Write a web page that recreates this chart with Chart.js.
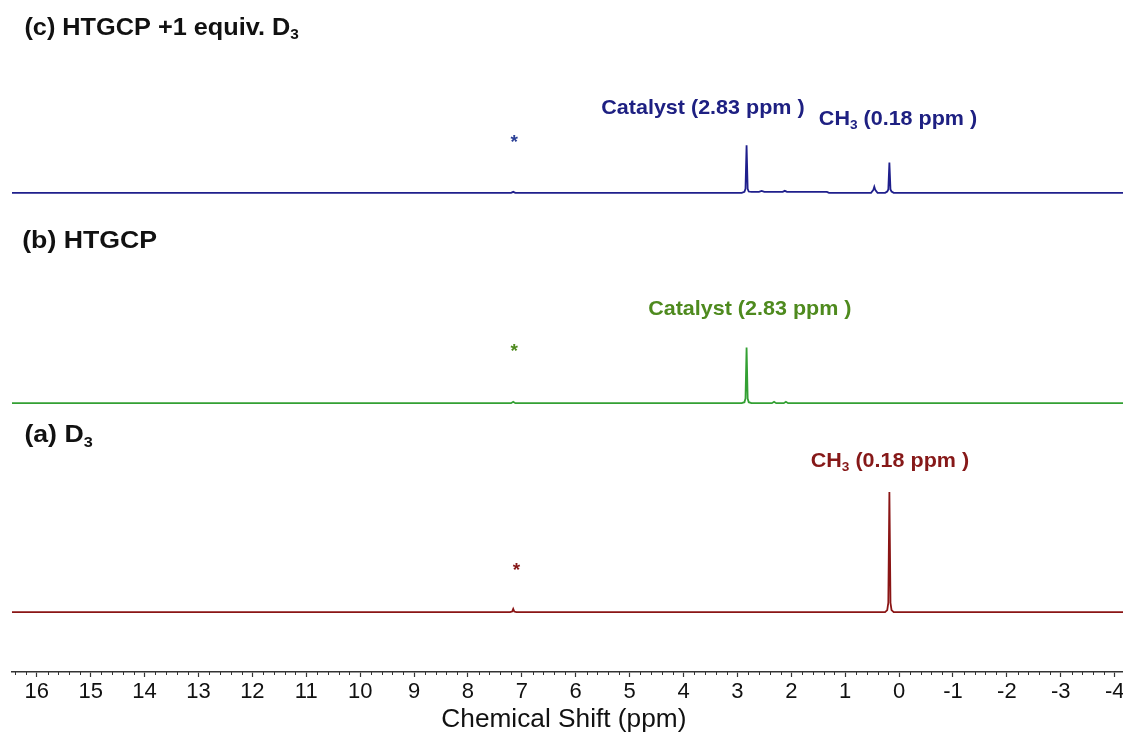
<!DOCTYPE html>
<html>
<head>
<meta charset="utf-8">
<script src="https://cdn.jsdelivr.net/npm/chart.js@4.4.1/dist/chart.umd.min.js"></script>
<style>
  html, body { margin: 0; padding: 0; background: #fff; overflow: hidden; width: 1123px; height: 737px; }
  canvas { position: absolute; left: 0; top: 0; }
</style>
</head>
<body>
<canvas id="nmr" width="1150" height="737"></canvas>
<script>
// Chemical-shift axis labels (ppm)
const tickLabels = [16, 15, 14, 13, 12, 11, 10, 9, 8, 7, 6, 5, 4, 3, 2, 1, 0, -1, -2, -3, -4];

// (a) D3: solvent residual (*) at 7.16 ppm and CH3 singlet at 0.18 ppm
const shiftsA = [16.46, 7.22, 7.18, 7.16, 7.14, 7.10, 0.26, 0.22, 0.20, 0.18, 0.16, 0.14, 0.10, -4.6];
const intensA = [0, 0, 0.1, 0.5, 0.1, 0, 0, 0.3, 1.4, 17.9, 1.4, 0.3, 0, 0];

// (b) HTGCP: catalyst signal at 2.83 ppm
const shiftsB = [16.46, 7.20, 7.16, 7.12, 2.92, 2.87, 2.85, 2.83, 2.81, 2.79, 2.74, 2.36, 2.32, 2.28, 2.14, 2.10, 2.06, -4.6];
const intensB = [0, 0, 0.2, 0, 0, 0.15, 0.7, 8.3, 0.7, 0.15, 0, 0, 0.2, 0, 0, 0.2, 0, 0];

// (c) HTGCP + 1 equiv. D3: catalyst 2.83 ppm and CH3 0.18 ppm
const shiftsC = [16.46, 7.20, 7.16, 7.12, 2.92, 2.87, 2.85, 2.83, 2.81, 2.79, 2.74, 2.60, 2.55, 2.50, 2.16, 2.12, 2.08, 1.34, 1.30,
                 0.52, 0.48, 0.46, 0.44, 0.40, 0.26, 0.22, 0.20, 0.18, 0.16, 0.14, 0.10, -4.6];
const intensC = [0, 0, 0.15, 0, 0, 0.15, 0.6, 7.1, 0.6, 0.2, 0.15, 0.15, 0.3, 0.15, 0.15, 0.3, 0.15, 0.15, 0,
                 0, 0.4, 0.9, 0.4, 0, 0, 0.2, 0.5, 4.5, 0.5, 0.2, 0, 0];

// Vertical stacking of the three traces
const baselineOffsets = { a: 8.9, b: 40.0, c: 71.3 };

const FONT = "'Liberation Sans', Arial, Helvetica, sans-serif";
const NAVY = '#1e2082', NAVY_LINE = '#1f1f8c';
const GREEN_TXT = '#4e8a1e', GREEN_LINE = '#33a033';
const RED = '#861818', RED_LINE = '#8a1515';

const spectra = [
  { name: '(a) D3', shift: shiftsA, intens: intensA, offset: baselineOffsets.a, color: RED_LINE },
  { name: '(b) HTGCP', shift: shiftsB, intens: intensB, offset: baselineOffsets.b, color: GREEN_LINE },
  { name: '(c) HTGCP +1 equiv. D3', shift: shiftsC, intens: intensC, offset: baselineOffsets.c, color: NAVY_LINE }
];

// Text placed in data coordinates (ppm, stacked intensity); sx widens the glyphs
const labels = [
  { x: 16.23, y: 95.8, align: 'left', size: 23, sx: 1.10, bold: true, color: '#111', parts: [['(c) HTGCP +1 equiv. D'], ['3', 'sub']] },
  { x: 16.27, y: 64.1, align: 'left', size: 23, sx: 1.16, bold: true, color: '#111', parts: [['(b) HTGCP']] },
  { x: 16.23, y: 35.1, align: 'left', size: 23, sx: 1.16, bold: true, color: '#111', parts: [['(a) D'], ['3', 'sub']] },
  { x: 3.64, y: 83.9, align: 'center', size: 20.5, sx: 1.05, bold: true, color: NAVY, parts: [['Catalyst (2.83 ppm )']] },
  { x: 0.02, y: 82.2, align: 'center', size: 20.5, sx: 1.05, bold: true, color: NAVY, parts: [['CH'], ['3', 'sub'], [' (0.18 ppm )']] },
  { x: 2.77, y: 53.9, align: 'center', size: 20.5, sx: 1.05, bold: true, color: GREEN_TXT, parts: [['Catalyst (2.83 ppm )']] },
  { x: 0.17, y: 31.3, align: 'center', size: 20.5, sx: 1.05, bold: true, color: RED, parts: [['CH'], ['3', 'sub'], [' (0.18 ppm )']] },
  { x: 7.14, y: 78.8, align: 'center', size: 19, sx: 1, bold: true, color: '#2a3f96', parts: [['*']] },
  { x: 7.14, y: 47.7, align: 'center', size: 19, sx: 1, bold: true, color: GREEN_TXT, parts: [['*']] },
  { x: 7.10, y: 15.0, align: 'center', size: 19, sx: 1, bold: true, color: RED, parts: [['*']] },
  // axis title
  { x: 6.22, y: -7.2, align: 'center', size: 25, sx: 1.05, bold: false, color: '#111', parts: [['Chemical Shift (ppm)']] }
];

function partFont(l, kind) {
  return (l.bold ? 'bold ' : '') + (kind === 'sub' ? Math.round(l.size * 0.62) : l.size) + 'px ' + FONT;
}

const textLayer = {
  id: 'textLayer',
  afterDraw(chart) {
    const c = chart.ctx, xs = chart.scales.x, ys = chart.scales.y;
    labels.forEach(l => {
      c.save();
      c.textBaseline = 'middle';
      c.textAlign = 'left';
      let w = 0;
      l.parts.forEach(p => { c.font = partFont(l, p[1]); w += c.measureText(p[0]).width; });
      let px = xs.getPixelForValue(l.x);
      if (l.align === 'center') px -= w * l.sx / 2;
      const py = ys.getPixelForValue(l.y);
      c.translate(px, py);
      c.scale(l.sx, 1);
      c.fillStyle = l.color;
      let cx = 0;
      l.parts.forEach(p => {
        c.font = partFont(l, p[1]);
        const dy = p[1] === 'sub' ? l.size * 0.3 : 0;
        c.fillText(p[0], cx, dy);
        cx += c.measureText(p[0]).width;
      });
      c.restore();
    });
  }
};

// Small ticks every 0.2 ppm between the labelled ones
const minorTicks = {
  id: 'minorTicks',
  afterDraw(chart) {
    const xs = chart.scales.x, c = chart.ctx, y0 = xs.top;
    c.save();
    c.strokeStyle = '#333';
    c.lineWidth = 1;
    for (let k = Math.ceil(xs.min * 5); k <= Math.floor(xs.max * 5); k++) {
      if (k % 5 === 0) continue;
      const px = Math.round(xs.getPixelForValue(k / 5)) + 0.5;
      c.beginPath();
      c.moveTo(px, y0);
      c.lineTo(px, y0 + 3);
      c.stroke();
    }
    c.restore();
  }
};

new Chart(document.getElementById('nmr'), {
  type: 'line',
  data: {
    datasets: spectra.map(s => ({
      label: s.name,
      data: s.shift.map((x, i) => ({ x: x, y: s.offset + s.intens[i] })),
      borderColor: s.color,
      borderWidth: 1.8,
      pointRadius: 0,
      tension: 0,
      fill: false
    }))
  },
  options: {
    responsive: false,
    animation: false,
    devicePixelRatio: 1,
    layout: { padding: { left: 12, right: 3, top: 0, bottom: 0 } },
    plugins: { legend: { display: false }, tooltip: { enabled: false } },
    scales: {
      x: {
        type: 'linear',
        reverse: true,
        min: -4.6,
        max: 16.46,
        afterBuildTicks: s => { s.ticks = tickLabels.map(v => ({ value: v })); },
        afterFit: s => { s.height = 65; },
        grid: { drawOnChartArea: false, drawTicks: true, tickLength: 5, tickColor: '#333', tickWidth: 1.2 },
        border: { display: true, color: '#333', width: 1.6 },
        ticks: {
          font: { family: FONT, size: 22 },
          color: '#111',
          padding: 2,
          maxRotation: 0,
          autoSkip: false,
          callback: v => String(v)
        },
        title: { display: false }
      },
      y: { display: false, min: 0, max: 100 }
    }
  },
  plugins: [textLayer, minorTicks]
});
</script>
</body>
</html>
